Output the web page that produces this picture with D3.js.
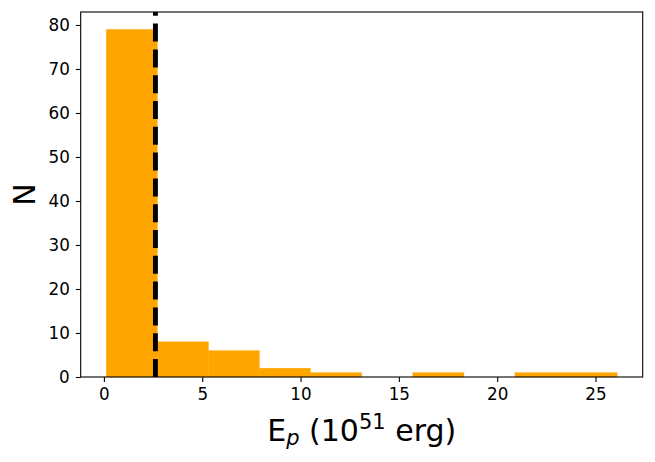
<!DOCTYPE html>
<html>
<head>
<meta charset="utf-8">
<script src="https://cdn.jsdelivr.net/npm/d3@7"></script>
<style>
html,body{margin:0;padding:0;background:#fff;}
svg{display:block;font-family:"DejaVu Sans",sans-serif;}
</style>
</head>
<body>
<svg id="chart" width="655" height="462"></svg>
<script>
const binEdges = [0.12, 2.72, 5.32, 7.91, 10.51, 13.11, 15.71, 18.31, 20.90, 23.50, 26.10];
const counts = [79, 8, 6, 2, 1, 0, 1, 0, 1, 1];
const medianValue = 2.62;
const xTicks = [0, 5, 10, 15, 20, 25];
const yTicks = [0, 10, 20, 30, 40, 50, 60, 70, 80];

const svg = d3.select("#chart");
const m = {left: 80.7, right: 642.7, top: 12, bottom: 377};
const x = d3.scaleLinear().domain([-1.18, 27.40]).range([m.left, m.right]);
const y = d3.scaleLinear().domain([0, 82.95]).range([m.bottom, m.top]);

const bins = counts.map((c, i) => ({x0: binEdges[i], x1: binEdges[i + 1], n: c}));

svg.append("g").selectAll("rect").data(bins.filter(d => d.n > 0)).join("rect")
  .attr("x", d => x(d.x0))
  .attr("width", d => x(d.x1) - x(d.x0))
  .attr("y", d => y(d.n))
  .attr("height", d => y(0) - y(d.n))
  .attr("fill", "#FFA500")
  .attr("stroke", "#FFA500")
  .attr("stroke-width", 0.3);

svg.append("line")
  .attr("x1", x(medianValue)).attr("x2", x(medianValue))
  .attr("y1", m.bottom).attr("y2", m.top)
  .attr("stroke", "#000").attr("stroke-width", 4.9)
  .attr("stroke-dasharray", "18,7.8");

const xAxis = d3.axisBottom(x).tickValues(xTicks).tickSize(4.9).tickPadding(6.3).tickFormat(d3.format("d"));
const yAxis = d3.axisLeft(y).tickValues(yTicks).tickSize(4.9).tickPadding(6.0).tickFormat(d3.format("d"));

const gx = svg.append("g").attr("transform", `translate(0,${m.bottom})`).call(xAxis);
const gy = svg.append("g").attr("transform", `translate(${m.left},0)`).call(yAxis);
[gx, gy].forEach(g => {
  g.select(".domain").remove();
  g.selectAll(".tick line").attr("stroke", "#000").attr("stroke-width", 1.1);
  g.selectAll(".tick text").attr("fill", "#000").style("font-size", "16.8px").style("font-family", "DejaVu Sans");
});

svg.append("rect")
  .attr("x", m.left).attr("y", m.top)
  .attr("width", m.right - m.left).attr("height", m.bottom - m.top)
  .attr("fill", "none").attr("stroke", "#000").attr("stroke-width", 1.1);

const xl = svg.append("text")
  .attr("x", (m.left + m.right) / 2).attr("y", 440.7)
  .attr("text-anchor", "middle")
  .style("font-size", "30px").attr("fill", "#000");
xl.append("tspan").text("E");
xl.append("tspan").attr("font-style", "italic").attr("font-size", "21px").attr("dy", 4.5).text("p");
xl.append("tspan").attr("dy", -4.5).text(" (10");
xl.append("tspan").attr("font-size", "21px").attr("dy", -12).text("51");
xl.append("tspan").attr("dy", 12).text(" erg)");

svg.append("text")
  .attr("transform", `translate(35,${(m.top + m.bottom) / 2}) rotate(-90)`)
  .attr("text-anchor", "middle")
  .style("font-size", "30px").attr("fill", "#000")
  .text("N");
</script>
</body>
</html>
